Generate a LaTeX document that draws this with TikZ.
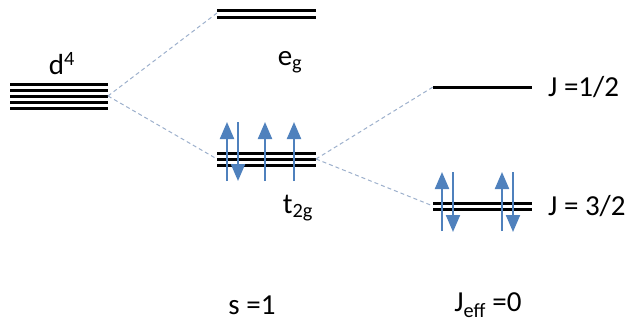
\documentclass[tikz,border=0pt]{standalone}
\usepackage{fontspec}
\setmainfont{Carlito}
\usetikzlibrary{arrows.meta}
\definecolor{spinblue}{HTML}{4F81BD}
\definecolor{linkgray}{HTML}{9DB0CC}

\begin{document}
\begin{tikzpicture}[x=1pt,y=-1pt,
  level/.style={line width=3pt},
  spin/.style={spinblue, line width=2.2pt, -{Triangle[width=14pt,length=17pt]}},
  link/.style={linkgray, dash pattern=on 4pt off 3pt, line width=1pt},
  lbl/.style={font=\fontsize{29}{32}\selectfont, inner sep=0pt}]
  \useasboundingbox (0,0) rectangle (636,324);

  % d4 levels
  \foreach \y in {84,90,96,102,108}
    \draw[level] (10,\y) -- (108,\y);
  \coordinate (d4R) at (108,96);
  \node[lbl] (d4) at (62,64) {d\textsuperscript{4}};

  % eg levels
  \foreach \y in {10,17}
    \draw[level] (217,\y) -- (316,\y);
  \coordinate (egL) at (217,13);
  \node[lbl] (eg) at (290,62) {e\textsubscript{g}};

  % t2g levels
  \foreach \y in {153,159,165}
    \draw[level] (217,\y) -- (316,\y);
  \coordinate (tgL) at (217,159);
  \coordinate (tgR) at (316,159);
  \node[lbl] (t2g) at (298,208) {t\textsubscript{2g}};

  % t2g spins
  \draw[spin] (227,181) -- (227,122);
  \draw[spin] (238,122) -- (238,181);
  \draw[spin] (265,181) -- (265,122);
  \draw[spin] (294,181) -- (294,122);

  % J = 1/2 level
  \draw[level] (433,87) -- (532,87);
  \coordinate (jaL) at (433,87);
  \node[lbl, anchor=west] (ja) at (548,87) {J =1/2};

  % J = 3/2 levels
  \foreach \y in {203,209}
    \draw[level] (433,\y) -- (532,\y);
  \coordinate (jbL) at (433,206);
  \node[lbl, anchor=west] (jb) at (548,206) {J = 3/2};

  % J = 3/2 spins
  \draw[spin] (442,231) -- (442,172);
  \draw[spin] (453,172) -- (453,232);
  \draw[spin] (502,231) -- (502,172);
  \draw[spin] (513,172) -- (513,232);

  % splitting links
  \draw[link] (d4R) -- (egL);
  \draw[link] (d4R) -- (tgL);
  \draw[link] (tgR) -- (jaL);
  \draw[link] (tgR) -- (jbL);

  % bottom labels
  \node[lbl] (spin1) at (252,305) {s =1};
  \node[lbl] (jeff) at (488,305) {J\textsubscript{eff} =0};
\end{tikzpicture}
\end{document}
